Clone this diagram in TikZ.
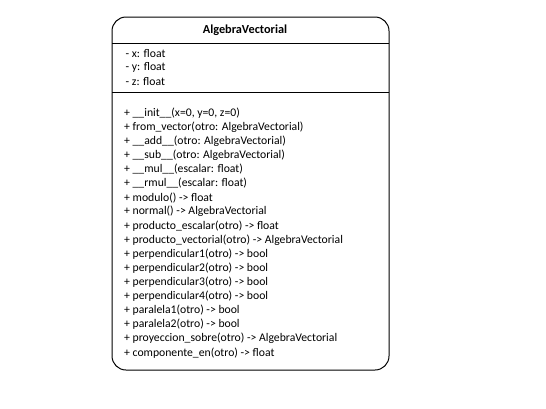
\documentclass[tikz,border=0pt]{standalone}
\usepackage{fontspec}
\setmainfont{Carlito}
\begin{document}
\begin{tikzpicture}[x=1pt,y=-1pt,
  umltext/.style={anchor=west,inner sep=0pt,font=\fontsize{11.7}{13}\selectfont},
  umltitle/.style={inner sep=0pt,font=\fontsize{12.3}{14}\selectfont\bfseries},
  frame/.style={draw=black,line width=1pt}]
\useasboundingbox (0,0) rectangle (546,408);
\draw[frame,rounded corners=14pt] (112,17) rectangle (389,370);
\coordinate (d1l) at (112,43.5);
\coordinate (d1r) at (389,43.5);
\coordinate (d2l) at (112,92);
\coordinate (d2r) at (389,92);
\draw[frame] (d1l) -- (d1r);
\draw[frame] (d2l) -- (d2r);
\node[umltitle] (title) at (245,30.5) {AlgebraVectorial};
\node[umltext] (ax) at (125.5,53.5) {- x: float};
\node[umltext] (ay) at (125.5,67.5) {- y: float};
\node[umltext] (az) at (125.5,81.5) {- z: float};
\foreach \i/\t in {
 1/{+ \_\_init\_\_(x=0, y=0, z=0)},
 2/{+ from\_vector(otro: AlgebraVectorial)},
 3/{+ \_\_add\_\_(otro: AlgebraVectorial)},
 4/{+ \_\_sub\_\_(otro: AlgebraVectorial)},
 5/{+ \_\_mul\_\_(escalar: float)},
 6/{+ \_\_rmul\_\_(escalar: float)},
 7/{+ modulo() -> float},
 8/{+ normal() -> AlgebraVectorial},
 9/{+ producto\_escalar(otro) -> float},
 10/{+ producto\_vectorial(otro) -> AlgebraVectorial},
 11/{+ perpendicular1(otro) -> bool},
 12/{+ perpendicular2(otro) -> bool},
 13/{+ perpendicular3(otro) -> bool},
 14/{+ perpendicular4(otro) -> bool},
 15/{+ paralela1(otro) -> bool},
 16/{+ paralela2(otro) -> bool},
 17/{+ proyeccion\_sobre(otro) -> AlgebraVectorial},
 18/{+ componente\_en(otro) -> float}}
{
  \node[umltext] (m\i) at (124,{113+14.1*(\i-1)}) {\t};
}
\end{tikzpicture}
\end{document}
